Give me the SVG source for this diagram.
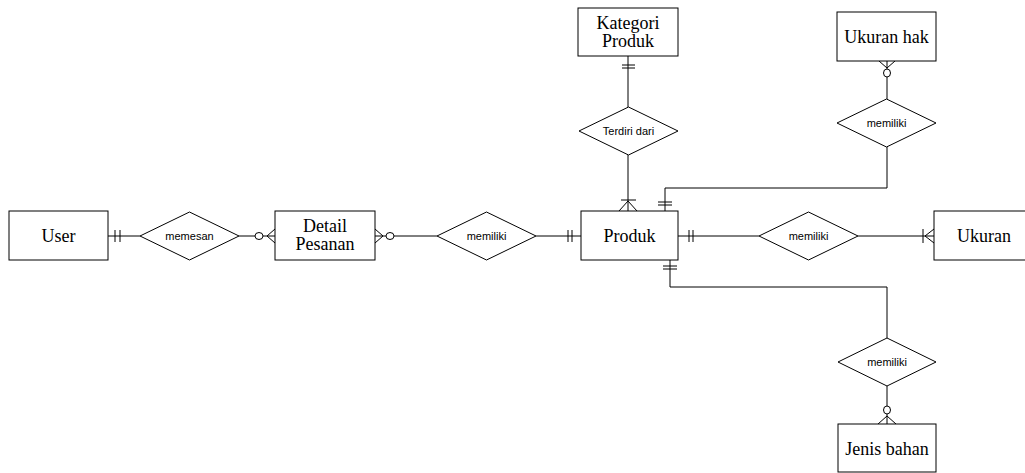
<svg xmlns="http://www.w3.org/2000/svg" width="1025" height="473" viewBox="0 0 1025 473">
<style>
.ent{fill:#fff;stroke:#000;stroke-width:1}
.rel{fill:#fff;stroke:#000;stroke-width:1}
.et{font-family:"Liberation Serif","Times New Roman",serif;font-size:18px;fill:#000;text-anchor:middle}
.rt{font-family:"Liberation Sans",Arial,sans-serif;font-size:11px;fill:#000;text-anchor:middle}
.ln{fill:none;stroke:#000;stroke-width:1}
</style>
<rect width="1025" height="473" fill="#fff"/>
<g id="connectors" class="ln">
  <!-- User - memesan -->
  <path d="M108 236H140"/>
  <path d="M115 230V242M120 230V242"/>
  <!-- memesan - Detail -->
  <path d="M239 236H255M263 236H275"/>
  <ellipse cx="259" cy="236" rx="4" ry="3.5"/>
  <path d="M275 229L267 236L275 243"/>
  <!-- Detail - memiliki -->
  <path d="M375 236H386M394 236H437"/>
  <ellipse cx="390" cy="236" rx="4" ry="3.5"/>
  <path d="M375 229L383 236L375 243"/>
  <!-- memiliki - Produk -->
  <path d="M536 236H581"/>
  <path d="M568 230V242M572 230V242"/>
  <!-- Kategori - Terdiri dari -->
  <path d="M628 56V107"/>
  <path d="M622 65H635M622 68H635"/>
  <!-- Terdiri dari - Produk -->
  <path d="M628 155V211"/>
  <path d="M621 200H636"/>
  <path d="M619 211L628 201L637 211"/>
  <!-- Produk - Ukuran hak -->
  <path d="M665 211V188H887V147"/>
  <path d="M658 202H672M658 205H672"/>
  <path d="M887 99V77"/>
  <ellipse cx="887" cy="73" rx="3.5" ry="4"/>
  <path d="M887 69V61"/>
  <path d="M879 61L887 68L895 61"/>
  <!-- Produk - Ukuran -->
  <path d="M678 236H759"/>
  <path d="M689 230V242M693 230V242"/>
  <path d="M858 236H934"/>
  <path d="M923 229V243"/>
  <path d="M934 229L925 236L934 243"/>
  <!-- Produk - Jenis bahan -->
  <path d="M670 260V287H887V338"/>
  <path d="M663 266H677M663 269H677"/>
  <path d="M887 386V406"/>
  <ellipse cx="887" cy="410" rx="3.5" ry="4"/>
  <path d="M887 414V424"/>
  <path d="M878 424L887 416L896 424"/>
</g>
<g id="user"><rect class="ent" x="9" y="211" width="99" height="49"/><text class="et" x="58.5" y="242">User</text></g>
<g id="memesan"><polygon class="rel" points="140,236 189.5,212 239,236 189.5,260"/><text class="rt" x="189.5" y="240">memesan</text></g>
<g id="detail-pesanan"><rect class="ent" x="275" y="211" width="100" height="49"/><text class="et" x="325" y="232">Detail</text><text class="et" x="325" y="250">Pesanan</text></g>
<g id="memiliki-1"><polygon class="rel" points="437,236 486.5,212 536,236 486.5,260"/><text class="rt" x="486.5" y="240">memiliki</text></g>
<g id="produk"><rect class="ent" x="581" y="211" width="97" height="49"/><text class="et" x="629.5" y="242">Produk</text></g>
<g id="kategori-produk"><rect class="ent" x="578" y="8" width="100" height="48"/><text class="et" x="628" y="29">Kategori</text><text class="et" x="628" y="47">Produk</text></g>
<g id="terdiri-dari"><polygon class="rel" points="579,131 628.5,107 678,131 628.5,155"/><text class="rt" x="628.5" y="135">Terdiri dari</text></g>
<g id="ukuran-hak"><rect class="ent" x="837" y="12" width="99" height="49"/><text class="et" x="886.5" y="43">Ukuran hak</text></g>
<g id="memiliki-2"><polygon class="rel" points="837,123 886.5,99 936,123 886.5,147"/><text class="rt" x="886.5" y="127">memiliki</text></g>
<g id="memiliki-3"><polygon class="rel" points="759,236 808.5,212 858,236 808.5,260"/><text class="rt" x="808.5" y="240">memiliki</text></g>
<g id="ukuran"><rect class="ent" x="934" y="211" width="100" height="49"/><text class="et" x="984" y="242">Ukuran</text></g>
<g id="memiliki-4"><polygon class="rel" points="838,362 887,338 936,362 887,386"/><text class="rt" x="887" y="366">memiliki</text></g>
<g id="jenis-bahan"><rect class="ent" x="838" y="424" width="98" height="48"/><text class="et" x="887" y="455">Jenis bahan</text></g>
</svg>
